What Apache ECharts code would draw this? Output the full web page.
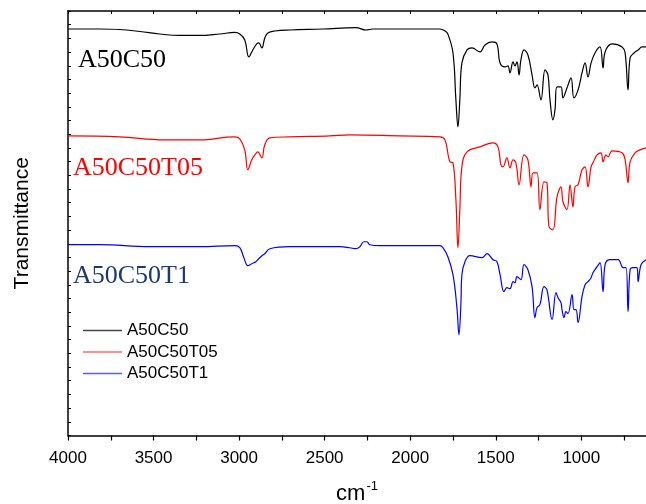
<!DOCTYPE html>
<html>
<head>
<meta charset="utf-8">
<title>FTIR spectra</title>
<script src="https://cdn.jsdelivr.net/npm/echarts@6/dist/echarts.min.js"></script>
<style>
  html, body { margin: 0; padding: 0; background: #fff; overflow: hidden; }
  #chart { width: 646px; height: 504px; }
</style>
</head>
<body>
<div id="chart"></div>
<script>
// Wavenumber (cm-1), offset transmittance (a.u.)
const A50C50 = [
  [4000,407],[3815,407],[3700,406.5],[3580,404.5],[3465,402],[3347,400.5],[3230,400.5],[3113,402],
  [3025,403.5],[2996,402],[2967,396],[2943,379],[2920,386],[2897,392],[2885,393],[2867,388],
  [2850,398],[2832,403],[2791,405],[2704,406],[2510,407],[2317,408.3],[2259,406],[2218,407],
  [2025,407],[1826,407],[1797,405],[1780,402],[1750,383],[1733,336],[1721,309],[1710,336],
  [1698,373],[1668,386],[1639,388],[1592,384],[1563,391],[1522,394],[1493,392],[1475,373],
  [1446,369],[1429,370],[1417,363],[1399,374],[1388,370],[1376,374],[1364,361],[1353,376],
  [1335,386],[1312,381],[1288,361],[1271,348],[1259,351],[1236,336],[1212,366],[1195,361],
  [1183,336],[1166,316],[1154,326],[1142,349],[1119,349],[1107,338],[1084,348],[1060,358],
  [1043,338],[1019,346],[996,363],[978,373],[961,359],[943,373],[920,383],[891,389],
  [873,368],[861,384],[820,392],[762,389],[744,383],[727,346],[715,378],[692,383],
  [668,386],[645,389],[622,389]
];
const A50C50T05 = [
  [4000,300],[3700,299],[3435,296],[3230,296],[3025,299],[2996,297],[2967,286],[2949,266],
  [2926,276],[2908,281],[2891,284],[2867,278],[2850,291],[2820,298],[2704,299],[2470,300],
  [2353,301],[2060,300],[1826,299],[1797,296],[1768,274],[1750,273],[1733,236],[1721,188],
  [1710,226],[1698,269],[1668,284],[1592,289],[1516,293],[1487,289],[1470,271],[1458,269],
  [1435,278],[1417,268],[1399,276],[1382,273],[1364,251],[1335,281],[1312,276],[1294,249],
  [1282,263],[1259,263],[1242,226],[1218,254],[1201,253],[1189,209],[1166,206],[1142,239],
  [1119,249],[1107,234],[1084,226],[1066,251],[1049,229],[1037,249],[1019,251],[996,266],
  [978,269],[961,249],[943,269],[932,273],[908,281],[885,283],[873,274],[856,281],
  [844,279],[820,285],[762,283],[744,276],[727,253],[715,274],[686,283],[657,286],[622,288]
];
const A50C50T1 = [
  [4000,191],[3815,191],[3523,189],[3230,189],[3025,190],[2996,188],[2972,178],[2949,170],
  [2926,172],[2902,174],[2885,177],[2867,180],[2850,182],[2820,187],[2704,189],[2411,189],
  [2353,188],[2318,187],[2294,189],[2271,194],[2253,194],[2236,191],[2177,190],[1943,190],
  [1826,190],[1809,188],[1780,179],[1750,161],[1727,128],[1715,101],[1704,131],[1698,161],
  [1680,174],[1651,180],[1581,178],[1551,182],[1516,176],[1493,174],[1475,161],[1452,144],
  [1435,148],[1417,147],[1399,154],[1388,153],[1376,159],[1353,156],[1335,171],[1312,166],
  [1288,149],[1271,118],[1259,128],[1242,131],[1218,149],[1201,146],[1171,116],[1148,143],
  [1136,138],[1119,133],[1113,126],[1101,118],[1090,124],[1078,122],[1054,141],[1043,126],
  [1031,126],[1019,113],[996,139],[978,151],[961,154],[943,158],[932,163],[908,169],
  [891,173],[873,144],[861,171],[832,176],[785,176],[756,168],[739,168],[727,124],
  [715,166],[698,168],[674,168],[668,154],[651,171],[622,176]
];

const seriesNames = ['A50C50', 'A50C50T05', 'A50C50T1'];
const seriesColors = ['#000000', '#ff0000', '#0000ff'];
const legendColors = ['#444444', '#ff6a6a', '#5a5aff'];
const labelColors = ['#000000', '#ff0000', '#1b3a6f'];

const xLabelValues = [4000, 3500, 3000, 2500, 2000, 1500, 1000];
const xTickValues = [4000, 3750, 3500, 3250, 3000, 2750, 2500, 2250, 2000, 1750, 1500, 1250, 1000, 750];

const X_MIN = 622, X_MAX = 4000;
const Y_MAX = 425, Y_STEP = 425 / 31;

const chart = echarts.init(document.getElementById('chart'), null, { renderer: 'canvas' });

const xBase = {
  type: 'value', inverse: true, min: X_MIN, max: X_MAX,
  splitLine: { show: false },
  axisLine: { show: true, onZero: false, lineStyle: { color: '#000', width: 1.5 } }
};

chart.setOption({
  backgroundColor: '#fff',
  animation: false,
  grid: { left: 68, right: 0, top: 11, bottom: 68.5, containLabel: false, outerBoundsMode: 'none' },
  xAxis: [
    Object.assign({}, xBase, {
      position: 'bottom',
      name: '{b|cm}{s|-1}',
      nameLocation: 'middle',
      nameGap: 44,
      nameTextStyle: {
        rich: {
          b: { fontFamily: 'Liberation Sans', fontSize: 22, color: '#000', verticalAlign: 'bottom' },
          s: { fontFamily: 'Liberation Sans', fontSize: 13, color: '#000', verticalAlign: 'top', padding: [0, 0, 12, 1] }
        }
      },
      axisTick: { show: true, inside: false, length: 5, customValues: xTickValues, lineStyle: { color: '#000', width: 1.2 } },
      axisLabel: {
        show: true, customValues: xLabelValues, margin: 14,
        formatter: v => String(v),
        fontFamily: 'Liberation Sans', fontSize: 17, color: '#000'
      }
    }),
    Object.assign({}, xBase, {
      position: 'top',
      axisTick: { show: true, inside: true, length: 3, customValues: xTickValues, lineStyle: { color: '#000', width: 1 } },
      axisLabel: { show: false }
    })
  ],
  yAxis: {
    type: 'value', min: 0, max: Y_MAX, interval: Y_STEP,
    name: 'Transmittance', nameLocation: 'middle', nameGap: 35,
    nameTextStyle: { fontFamily: 'Liberation Sans', fontSize: 21, color: '#000' },
    splitLine: { show: false },
    axisLine: { show: true, lineStyle: { color: '#000', width: 1.5 } },
    axisTick: { show: true, inside: true, length: 3, lineStyle: { color: '#000', width: 1 } },
    axisLabel: { show: false }
  },
  legend: {
    orient: 'vertical', left: 78, top: 317,
    itemWidth: 39, itemHeight: 1.5, itemGap: 4.5,
    icon: 'rect',
    textStyle: { fontFamily: 'Liberation Sans', fontSize: 17, color: '#000' },
    data: seriesNames.map((n, i) => ({ name: n, itemStyle: { color: legendColors[i] } }))
  },
  graphic: seriesNames.map((n, i) => ({
    type: 'text',
    left: [78, 73, 73][i],
    top: [47, 155, 263][i],
    style: { text: n, fill: labelColors[i], font: '26px "Liberation Serif"' }
  })),
  series: [A50C50, A50C50T05, A50C50T1].map((d, i) => ({
    name: seriesNames[i],
    type: 'line',
    data: d,
    showSymbol: false,
    smooth: 0.4,
    lineStyle: { color: seriesColors[i], width: 1.2 },
    itemStyle: { color: seriesColors[i] }
  }))
});
</script>
</body>
</html>
